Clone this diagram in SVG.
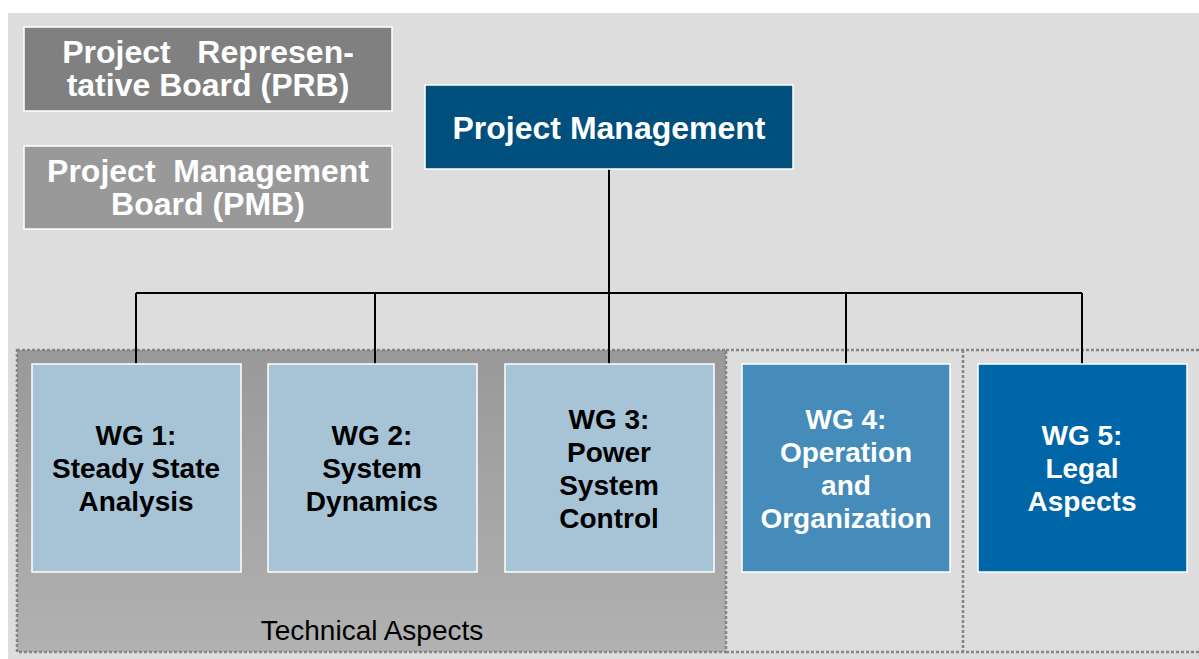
<svg xmlns="http://www.w3.org/2000/svg" width="1199" height="659" viewBox="0 0 1199 659">
<style>
.t{font-family:"Liberation Sans",Arial,sans-serif;font-weight:bold;text-anchor:middle;}
.w{fill:#ffffff;}
.k{fill:#000000;}
.box{stroke:#ffffff;stroke-width:1.5;}
.dot{fill:none;stroke:#858585;stroke-width:2.5;stroke-dasharray:3 2;}
.con{stroke:#000000;stroke-width:2;fill:none;}
</style>
<defs>
<linearGradient id="gTech" x1="0" y1="0" x2="0" y2="1">
<stop offset="0" stop-color="#999999"/>
<stop offset="1" stop-color="#b1b1b1"/>
</linearGradient>
</defs>
<rect x="0" y="0" width="1199" height="659" fill="#ffffff"/>
<rect x="8" y="13" width="1191" height="646" fill="#dddddd"/>

<g id="tech-region">
<rect x="17" y="350" width="709" height="302" fill="url(#gTech)"/>
<rect x="17" y="350" width="709" height="302" class="dot"/>
<text x="372" y="640" font-family="Liberation Sans,Arial,sans-serif" font-size="28" text-anchor="middle" fill="#000000">Technical Aspects</text>
</g>
<g id="other-regions">
<polyline points="726,350 1199,350" class="dot"/>
<polyline points="726,652 1199,652" class="dot"/>
<polyline points="963,350 963,652" class="dot"/>
</g>

<g id="connectors">
<line x1="609" y1="169" x2="609" y2="365" class="con"/>
<line x1="136" y1="293" x2="1082" y2="293" class="con"/>
<line x1="136" y1="293" x2="136" y2="365" class="con"/>
<line x1="375" y1="293" x2="375" y2="365" class="con"/>
<line x1="846" y1="293" x2="846" y2="365" class="con"/>
<line x1="1082" y1="293" x2="1082" y2="365" class="con"/>
</g>

<g id="prb">
<rect x="24" y="27" width="368" height="84" fill="#808080" class="box"/>
<text class="t w" font-size="32" xml:space="preserve"><tspan x="208" y="63">Project   Represen-</tspan><tspan x="208" y="96">tative Board (PRB)</tspan></text>
</g>
<g id="pmb">
<rect x="24" y="146" width="368" height="83" fill="#999999" class="box"/>
<text class="t w" font-size="32" xml:space="preserve"><tspan x="208" y="182">Project  Management</tspan><tspan x="208" y="215">Board (PMB)</tspan></text>
</g>
<g id="pm">
<rect x="425" y="85" width="368" height="84" fill="#004f7c" class="box"/>
<text class="t w" font-size="32" x="609" y="139">Project Management</text>
</g>

<g id="wg1">
<rect x="32" y="364" width="209" height="208" fill="#a7c3d6" class="box"/>
<text class="t k" font-size="28"><tspan x="136" y="445">WG 1:</tspan><tspan x="136" y="478">Steady State</tspan><tspan x="136" y="511">Analysis</tspan></text>
</g>
<g id="wg2">
<rect x="268" y="364" width="209" height="208" fill="#a7c3d6" class="box"/>
<text class="t k" font-size="28"><tspan x="372" y="445">WG 2:</tspan><tspan x="372" y="478">System</tspan><tspan x="372" y="511">Dynamics</tspan></text>
</g>
<g id="wg3">
<rect x="505" y="364" width="209" height="208" fill="#a7c3d6" class="box"/>
<text class="t k" font-size="28"><tspan x="609" y="429">WG 3:</tspan><tspan x="609" y="462">Power</tspan><tspan x="609" y="495">System</tspan><tspan x="609" y="528">Control</tspan></text>
</g>
<g id="wg4">
<rect x="742" y="364" width="208" height="208" fill="#458cba" class="box"/>
<text class="t w" font-size="28"><tspan x="846" y="429">WG 4:</tspan><tspan x="846" y="462">Operation</tspan><tspan x="846" y="495">and</tspan><tspan x="846" y="528">Organization</tspan></text>
</g>
<g id="wg5">
<rect x="978" y="364" width="209" height="208" fill="#0066a8" class="box"/>
<text class="t w" font-size="28"><tspan x="1082" y="445">WG 5:</tspan><tspan x="1082" y="478">Legal</tspan><tspan x="1082" y="511">Aspects</tspan></text>
</g>
</svg>
